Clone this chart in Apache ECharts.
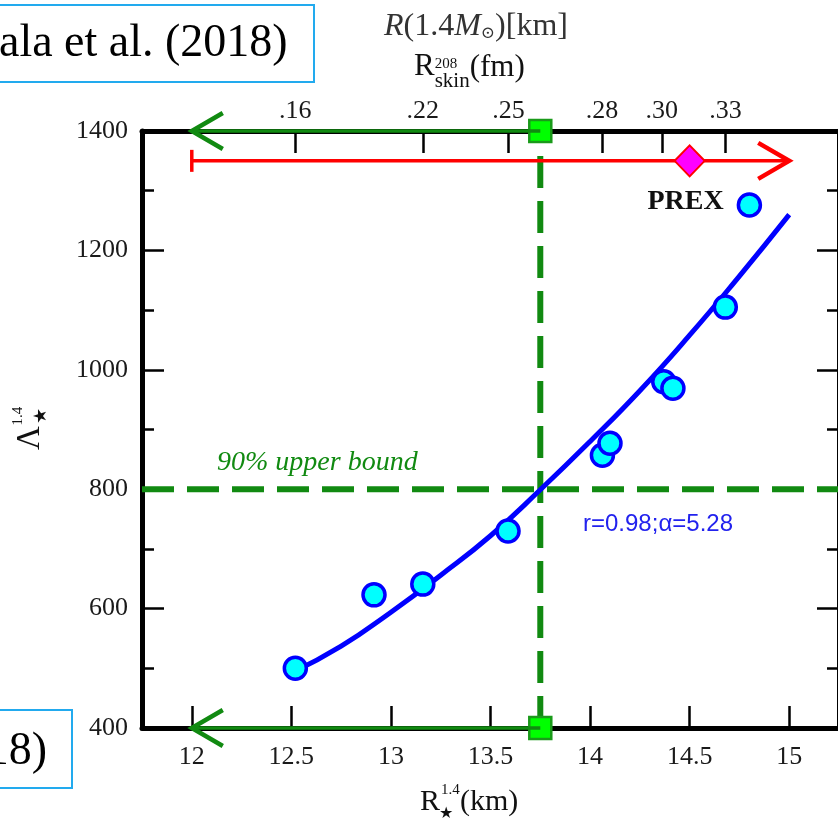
<!DOCTYPE html>
<html><head><meta charset="utf-8">
<script src="https://cdn.jsdelivr.net/npm/echarts@6/dist/echarts.min.js"></script>
<style>html,body{margin:0;padding:0;background:#fff}#c{width:838px;height:823px}</style>
</head><body><div id="c"></div>
<script>
// ---------------- data ----------------
const xTickValues = [12, 12.5, 13, 13.5, 14, 14.5, 15];
const yTickValues = [400, 600, 800, 1000, 1200, 1400];
const topTickValues = [12.52, 13.16, 13.59, 14.06, 14.36, 14.68];
const topTickLabels = ['.16', '.22', '.25', '.28', '.30', '.33'];
const modelR      = [12.52, 12.915, 13.16, 13.588, 14.062, 14.10, 14.37, 14.416, 14.679];
const modelLambda = [500,   623,    641,   730,    857,    877,   980,   969,    1105];
const prexR = [14.80];
const prexLambda = [1276];
const fitR      = [12.5, 12.75, 13.0, 13.25, 13.5, 13.75, 14.0, 14.25, 14.5, 14.75, 15.0];
const fitLambda = [492,  537,   594,  656,   722,  799,   880,  965,   1058, 1157,  1260];
const boundR = 13.75;        // R(1.4 Msun) at 90% upper bound
const boundLambda = 800;     // 90% upper bound on Lambda
const limitArrowY = [1400, 400];
const limitArrowTipR = 12;
const prexRangeR = [12, 15];
const prexRangeLambda = 1350;
const prexCentralR = 14.5;

// ---------------- helpers ----------------
const SERIF = "'Liberation Serif', 'DejaVu Serif', serif";
const SANS = "'Liberation Sans', 'DejaVu Sans', sans-serif";
const mctx = document.createElement('canvas').getContext('2d');
function tw(text, font) { mctx.font = font; return mctx.measureText(text).width; }
function seq(pieces, x0, y) {
  let x = x0; const out = [];
  pieces.forEach(p => {
    const font = p.font;
    out.push({type: 'text', x: x, y: y + (p.dy || 0), z: 100,
      style: {text: p.text, font: font, fill: p.fill || '#111', align: 'left', verticalAlign: 'middle'}});
    x += (p.adv !== undefined ? p.adv : tw(p.text, font));
  });
  return out;
}
function nearestLabel(v) {
  let best = 0;
  topTickValues.forEach((t, i) => { if (Math.abs(t - v) < Math.abs(topTickValues[best] - v)) best = i; });
  return topTickLabels[best];
}
function arrowRender(color, width, withBar) {
  return function (params, api) {
    const a = api.coord([api.value(0), api.value(1)]);
    const b = api.coord([api.value(2), api.value(3)]);
    const dir = Math.sign(b[0] - a[0]) || 1;
    const children = [
      {type: 'line', shape: {x1: a[0], y1: a[1], x2: b[0], y2: b[1]}, style: {stroke: color, lineWidth: width}},
      {type: 'polyline', shape: {points: [[b[0] - dir * 31, b[1] - 18], [b[0], b[1]], [b[0] - dir * 31, b[1] + 18]]},
        style: {stroke: color, lineWidth: width + 1, fill: null}}
    ];
    if (withBar) children.push({type: 'line', shape: {x1: a[0], y1: a[1] - 11, x2: a[0], y2: a[1] + 11}, style: {stroke: color, lineWidth: width}});
    return {type: 'group', children: children};
  };
}

const GREEN = '#118a11';
const axisLine = {show: true, onZero: false, lineStyle: {color: '#000', width: 5}};
const tickStyle = {color: '#000', width: 2.5};
const labelFont = {fontFamily: SERIF, fontSize: 26, color: '#1a1a1a'};

// ---------------- graphics (titles / annotations) ----------------
const f = (size, style) => (style || '') + ' ' + size + 'px ' + SERIF;
const graphics = [];
// top-left citation box
graphics.push({type: 'rect', shape: {x: -10, y: 5, width: 324, height: 77}, style: {stroke: '#22aaee', lineWidth: 2, fill: null}, z: 100});
graphics.push({type: 'text', x: -1, y: 44, z: 100, style: {text: 'ala et al. (2018)', font: f(46), fill: '#000', align: 'left', verticalAlign: 'middle'}});
// bottom-left citation box
graphics.push({type: 'rect', shape: {x: -10, y: 710, width: 82, height: 78}, style: {stroke: '#22aaee', lineWidth: 2, fill: null}, z: 100});
graphics.push({type: 'text', x: 47, y: 752, z: 100, style: {text: '18)', font: f(46), fill: '#000', align: 'right', verticalAlign: 'middle'}});
// top title R(1.4 M_sun)[km]
graphics.push(...seq([
  {text: 'R', font: f(32, 'italic')},
  {text: '(1.4', font: f(32)},
  {text: 'M', font: f(32, 'italic')},
  {text: '\u2299', font: f(17), dy: 7},
  {text: ')[km]', font: f(32)}
], 384, 27).map(e => (e.style.fill = '#333', e)));
// R_skin^208 (fm)
(function () {
  const x0 = 414, y = 67;
  const wR = tw('R', f(31));
  graphics.push(...seq([{text: 'R', font: f(31)}], x0, y));
  graphics.push(...seq([{text: '208', font: f(15)}], x0 + wR, y - 3));
  const wskin = tw('skin', f(21));
  graphics.push(...seq([{text: 'skin', font: f(21)}], x0 + wR, y + 14));
  graphics.push(...seq([{text: '(fm)', font: f(31)}], x0 + wR + wskin, y + 1));
})();
// x-axis title R_star^1.4 (km)
(function () {
  const x0 = 420, y = 802;
  const wR = tw('R', f(30));
  graphics.push(...seq([{text: 'R', font: f(30)}], x0, y));
  graphics.push(...seq([{text: '1.4', font: f(15)}], x0 + wR + 1, y - 12));
  graphics.push(...seq([{text: '\u2605', font: '16px ' + SANS}], x0 + wR - 1, y + 12));
  graphics.push(...seq([{text: '(km)', font: f(30)}], x0 + wR + 20, y));
})();
// y-axis title Lambda_star^1.4 (rotated)
graphics.push({type: 'group', x: 30, y: 438, rotation: Math.PI / 2, z: 100, children: [
  {type: 'text', x: 0, y: 0, style: {text: '\u039B', font: f(33), fill: '#111', align: 'center', verticalAlign: 'middle'}},
  {type: 'text', x: 22, y: -12, style: {text: '1.4', font: f(15), fill: '#111', align: 'center', verticalAlign: 'middle'}},
  {type: 'text', x: 22, y: 11, style: {text: '\u2605', font: '18px ' + SANS, fill: '#111', align: 'center', verticalAlign: 'middle'}}
]});
// annotations
graphics.push({type: 'text', x: 217, y: 463, z: 100, style: {text: '90% upper bound', font: f(28, 'italic'), fill: GREEN, align: 'left', verticalAlign: 'middle'}});
graphics.push({type: 'text', x: 583, y: 524, z: 100, style: {text: 'r=0.98;\u03B1=5.28', font: '24px ' + SANS, fill: '#2222ee', align: 'left', verticalAlign: 'middle'}});

// ---------------- chart ----------------
const chart = echarts.init(document.getElementById('c'), null, {renderer: 'canvas'});
chart.setOption({
  animation: false,
  backgroundColor: '#fff',
  grid: {left: 142, top: 131, width: 697, height: 597, containLabel: false, outerBoundsMode: 'none'},
  xAxis: [
    {type: 'value', position: 'bottom', min: 11.75, max: 15.25,
      axisLine: axisLine,
      axisTick: {show: true, inside: true, length: 22, lineStyle: tickStyle, customValues: xTickValues},
      axisLabel: Object.assign({show: true, margin: 16, customValues: xTickValues, formatter: v => String(v)}, labelFont),
      splitLine: {show: false}},
    {type: 'value', position: 'top', min: 11.75, max: 15.25,
      axisLine: axisLine,
      axisTick: {show: true, inside: true, length: 22, lineStyle: tickStyle, customValues: topTickValues},
      axisLabel: Object.assign({show: true, margin: 7, customValues: topTickValues, formatter: v => nearestLabel(v)}, labelFont),
      splitLine: {show: false}}
  ],
  yAxis: [
    {type: 'value', position: 'left', min: 400, max: 1400, interval: 200,
      axisLine: axisLine,
      axisTick: {show: true, inside: true, length: 22, lineStyle: tickStyle},
      minorTick: {show: true, splitNumber: 2, length: 12, lineStyle: tickStyle},
      axisLabel: Object.assign({show: true, margin: 14, customValues: yTickValues, formatter: v => String(v)}, labelFont),
      splitLine: {show: false}},
    {type: 'value', position: 'right', min: 400, max: 1400, interval: 200,
      axisLine: axisLine,
      axisTick: {show: true, inside: true, length: 22, lineStyle: tickStyle},
      minorTick: {show: true, splitNumber: 2, length: 12, lineStyle: tickStyle},
      axisLabel: {show: false},
      splitLine: {show: false}}
  ],
  graphic: graphics,
  series: [
    {type: 'line', name: 'bound-v', clip: false, z: 2, symbol: 'none', silent: true,
      data: [[boundR, 400], [boundR, 1400]],
      lineStyle: {color: GREEN, width: 6, type: [32, 13]}},
    {type: 'line', name: 'bound-h', clip: false, z: 2, symbol: 'none', silent: true,
      data: [[11.75, boundLambda], [15.25, boundLambda]],
      lineStyle: {color: GREEN, width: 6, type: [32, 13]}},
    {type: 'line', name: 'fit', smooth: true, clip: false, z: 3, symbol: 'none',
      data: fitR.map((r, i) => [r, fitLambda[i]]),
      lineStyle: {color: '#0000ff', width: 5}},
    {type: 'scatter', name: 'models', z: 5, symbolSize: 22,
      data: modelR.map((r, i) => [r, modelLambda[i]]),
      itemStyle: {color: '#00ffff', borderColor: '#0000ff', borderWidth: 3.5, opacity: 1}},
    {type: 'scatter', name: 'PREX', z: 5, symbolSize: 22,
      data: prexR.map((r, i) => [r, prexLambda[i]]),
      itemStyle: {color: '#00ffff', borderColor: '#0000ff', borderWidth: 3.5, opacity: 1},
      label: {show: true, position: 'left', distance: 13, offset: [0, -3], formatter: 'PREX',
        fontFamily: SERIF, fontWeight: 'bold', fontSize: 28, color: '#111'}},
    {type: 'scatter', name: 'limit-squares', z: 6, symbol: 'rect', symbolSize: 22, clip: false,
      data: limitArrowY.map(y => [boundR, y]),
      itemStyle: {color: '#00ff00', borderColor: '#1a9a1a', borderWidth: 2.5, opacity: 1}},
    {type: 'custom', name: 'limit-arrows', z: 7, clip: false,
      renderItem: arrowRender(GREEN, 3.5, false),
      encode: {x: [0, 2], y: [1, 3]},
      data: limitArrowY.map(y => [boundR, y, limitArrowTipR, y])},
    {type: 'custom', name: 'prex-range', z: 7, clip: false,
      renderItem: arrowRender('#ff0000', 3.5, true),
      encode: {x: [0, 2], y: [1, 3]},
      data: [[prexRangeR[0], prexRangeLambda, prexRangeR[1], prexRangeLambda]]},
    {type: 'scatter', name: 'prex-central', z: 8, symbol: 'diamond', symbolSize: [30, 31],
      data: [[prexCentralR, prexRangeLambda]],
      itemStyle: {color: '#ff00ff', borderColor: '#ff0000', borderWidth: 2, opacity: 1}}
  ]
});
</script>
</body></html>
